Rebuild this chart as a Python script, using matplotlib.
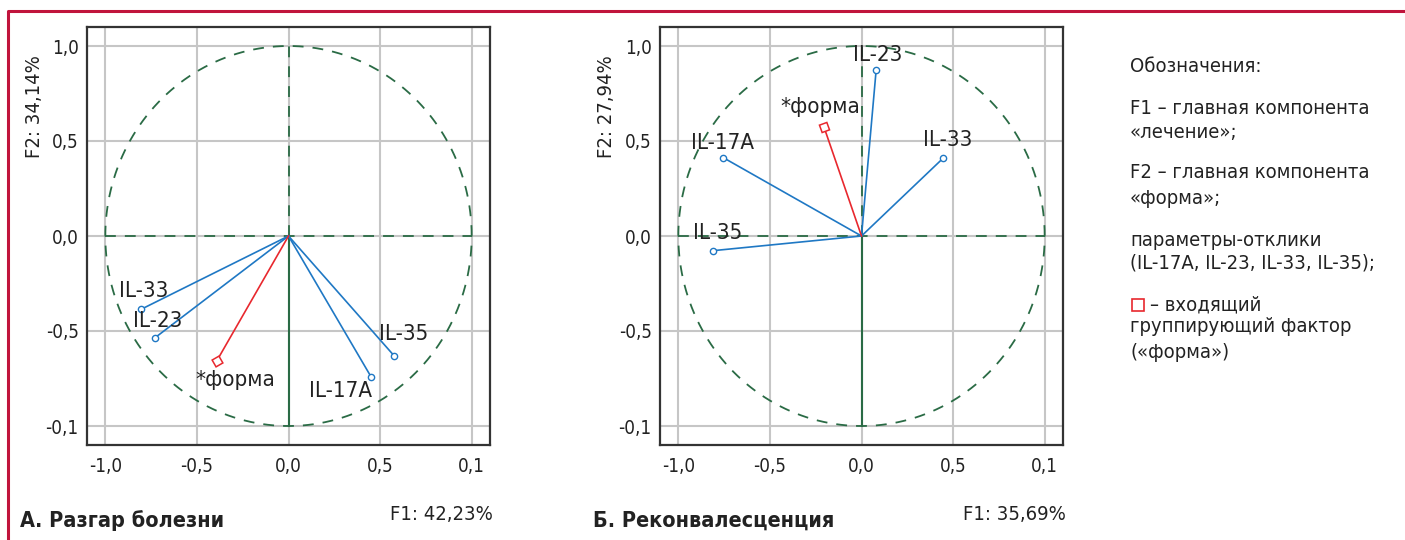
import numpy as np
import matplotlib
matplotlib.use("Agg")
import matplotlib.pyplot as plt

plt.rcParams['font.family'] = ['DejaVu Sans']
plt.rcParams['font.stretch'] = 'condensed'

# ---------------- data ----------------
tick_vals = [-1.0, -0.5, 0.0, 0.5, 1.0]
x_tick_labels = ["-1,0", "-0,5", "0,0", "0,5", "0,1"]
y_tick_labels = ["-0,1", "-0,5", "0,0", "0,5", "1,0"]

vars_names = ["IL-17A", "IL-23", "IL-33", "IL-35"]

# Panel A (Разгар болезни)
a_x = [0.450, -0.728, -0.805, 0.578]
a_y = [-0.740, -0.535, -0.386, -0.632]
a_label_x = [0.284, -0.716, -0.790, 0.630]
a_label_y = [-0.815, -0.447, -0.290, -0.516]
a_forma = (-0.392, -0.658)
a_forma_label = (-0.29, -0.758)

# Panel B (Реконвалесценция)
b_x = [-0.754, 0.080, 0.445, -0.808]
b_y = [0.412, 0.874, 0.409, -0.077]
b_label_x = [-0.756, 0.089, 0.470, -0.786]
b_label_y = [0.491, 0.953, 0.505, 0.014]
b_forma = (-0.205, 0.574)
b_forma_label = (-0.224, 0.680)

panels = [
    dict(x=a_x, y=a_y, lx=a_label_x, ly=a_label_y, forma=a_forma, flab=a_forma_label,
         title="А. Разгар болезни", xlabel="F1: 42,23%", ylabel="F2: 34,14%", sq_angle=30),
    dict(x=b_x, y=b_y, lx=b_label_x, ly=b_label_y, forma=b_forma, flab=b_forma_label,
         title="Б. Реконвалесценция", xlabel="F1: 35,69%", ylabel="F2: 27,94%", sq_angle=20),
]

legend_lines = [
    ("Обозначения:", 67),
    ("F1 – главная компонента", 108),
    ("«лечение»;", 133),
    ("F2 – главная компонента", 173),
    ("«форма»;", 198),
    ("параметры-отклики", 240),
    ("(IL-17A, IL-23, IL-33, IL-35);", 263),
    ("группирующий фактор", 327),
    ("(«форма»)", 352),
]
legend_square_text = ("– входящий", 305)

# ---------------- styles ----------------
W, H = 1405, 540
BLUE = "#1f78c4"
RED = "#e8282e"
GREEN = "#2a6b45"
GRID = "#c6c6c6"
TXT = "#222222"
BORDER = "#c0143c"

fig = plt.figure(figsize=(W / 100, H / 100), dpi=100)

def px_rect(l, t, r, b):
    return [l / W, 1 - b / H, (r - l) / W, (b - t) / H]

axes_px = [(87, 27, 490, 445), (660, 27, 1063, 445)]
ylabel_x = [35, 607]
title_x = [20, 593]

for p, (l, t, r, b), ylx, tx in zip(panels, axes_px, ylabel_x, title_x):
    ax = fig.add_axes(px_rect(l, t, r, b))
    ax.set_xlim(-1.1, 1.1)
    ax.set_ylim(-1.1, 1.1)
    ax.set_xticks(tick_vals)
    ax.set_xticklabels(x_tick_labels)
    ax.set_yticks(tick_vals)
    ax.set_yticklabels(y_tick_labels)
    ax.tick_params(length=0, labelsize=13.5, colors=TXT)
    ax.tick_params(axis="x", pad=9)
    ax.tick_params(axis="y", pad=6)
    for s in ax.spines.values():
        s.set_linewidth(1.6)
        s.set_color("#333333")
    ax.grid(True, color=GRID, lw=1.5, zorder=0)
    ax.set_axisbelow(True)

    th = np.linspace(0, 2 * np.pi, 400)
    ax.plot(np.cos(th), np.sin(th), color=GREEN, lw=1.3, ls=(0, (6, 5)), zorder=2)
    ax.plot([-1, 1], [0, 0], color=GREEN, lw=1.3, ls=(0, (6, 5)), zorder=2)
    ax.plot([0, 0], [0, 1], color=GREEN, lw=1.3, ls=(0, (6, 5)), zorder=2)
    ax.plot([0, 0], [-1, 0], color=GREEN, lw=1.5, zorder=2)

    for xi, yi, lxi, lyi, name in zip(p["x"], p["y"], p["lx"], p["ly"], vars_names):
        ax.plot([0, xi], [0, yi], color=BLUE, lw=1.2, zorder=3)
        ax.plot([xi], [yi], marker="o", ms=4.5, mfc="white", mec=BLUE, mew=1.0, zorder=4)
        ax.text(lxi, lyi, name, fontsize=16, color=TXT, ha="center", va="center", zorder=5)

    fx, fy = p["forma"]
    ax.plot([0, fx], [0, fy], color=RED, lw=1.2, zorder=3)
    ax.plot([fx], [fy], marker=(4, 0, 45 + p["sq_angle"]), ms=8, mfc="white", mec=RED, mew=1.1, zorder=4)
    ax.text(p["flab"][0], p["flab"][1], "*форма", fontsize=16, color=TXT, ha="center", va="center", zorder=5)

    fig.text((r + 3) / W, 1 - 514 / H, p["xlabel"], fontsize=14.5, color=TXT, ha="right", va="center")
    fig.text(ylx / W, 1 - 107 / H, p["ylabel"], fontsize=14.5, color=TXT, ha="center", va="center", rotation=90)
    fig.text(tx / W, 1 - 521 / H, p["title"], fontsize=15.5, fontweight="bold", color=TXT, ha="left", va="center")

for txt, yy in legend_lines:
    fig.text(1130 / W, 1 - yy / H, txt, fontsize=14.5, color=TXT, ha="left", va="center")
fig.text(1150 / W, 1 - legend_square_text[1] / H, legend_square_text[0], fontsize=14.5, color=TXT,
         ha="left", va="center")
fig.lines.append(plt.Line2D([1137.5 / W], [1 - 305 / H], marker="s", ms=8.5, mfc="white", mec=RED, mew=1.2,
                            transform=fig.transFigure))

# border
fig.lines.append(plt.Line2D([8 / W, 8 / W, 1.0], [0.0, 1 - 10.5 / H, 1 - 10.5 / H],
                            color=BORDER, lw=2.2, transform=fig.transFigure))

fig.savefig("out.png", dpi=100)
